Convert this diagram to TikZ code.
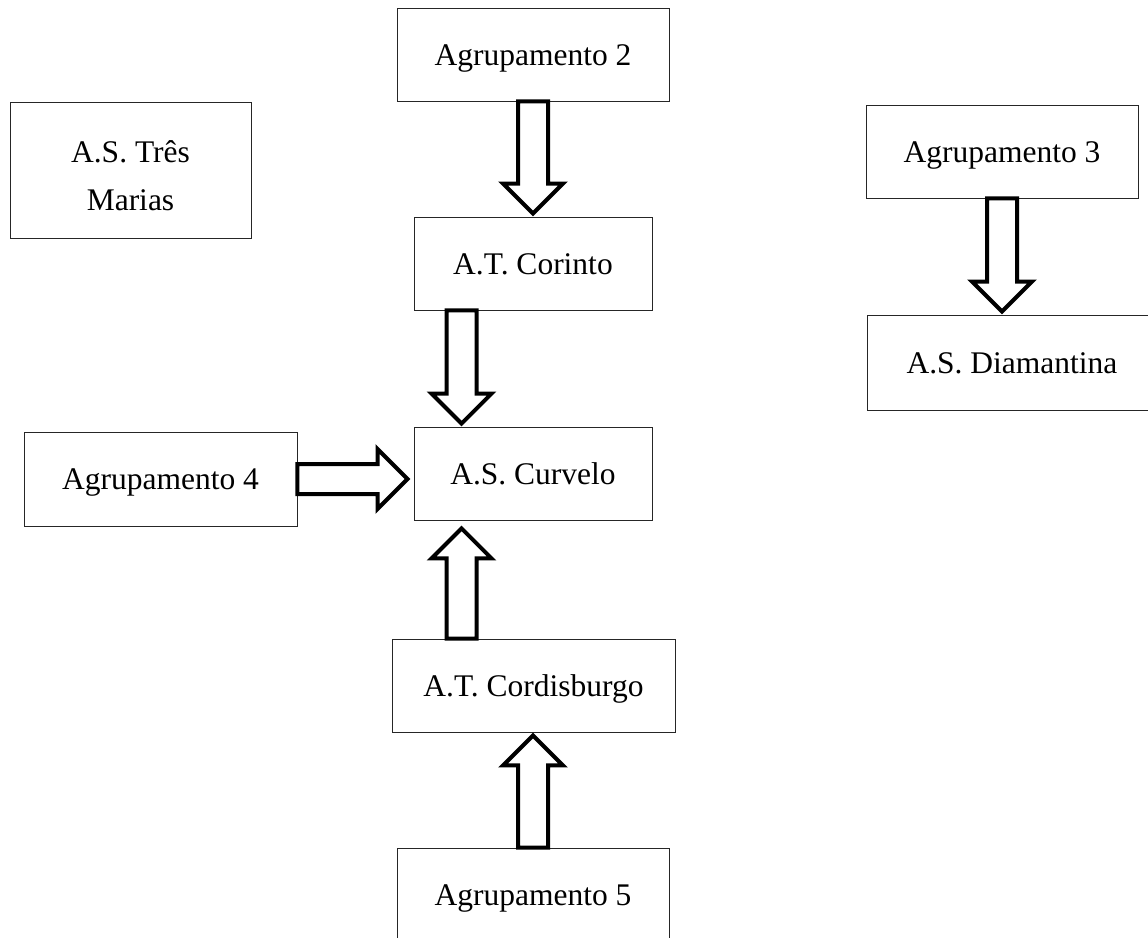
\documentclass[tikz,border=0pt]{standalone}
\usepackage{fontspec}
\setmainfont{Liberation Serif}
\usetikzlibrary{calc}

% geometry of the hollow block arrows
\def\arrSW{15pt}% half width of the shaft
\def\arrHW{30pt}% half width of the head
\def\arrHL{30pt}% length of the head
% \blockarrow{(start)}{(tip)}
\newcommand\blockarrow[2]{%
  \coordinate (ba-h) at ($#2!\arrHL!#1$);
  \draw[fatarrow]
    ($#1!\arrSW!90:#2$) -- ($(ba-h)!\arrSW!90:#2$) -- ($(ba-h)!\arrHW!90:#2$)
    -- #2
    -- ($(ba-h)!\arrHW!-90:#2$) -- ($(ba-h)!\arrSW!-90:#2$) -- ($#1!\arrSW!-90:#2$)
    -- cycle;}

\begin{document}
\begin{tikzpicture}[x=1pt, y=-1pt,
  txt/.style={inner sep=0pt, font=\fontsize{31.5}{38}\selectfont},
  box/.style={draw=black!85, line width=0.9pt, inner sep=0pt,
    text height=21pt, text depth=0pt, font=\fontsize{31.5}{38}\selectfont},
  fatarrow/.style={draw=black, line width=4pt, fill=white, line join=miter}]
\useasboundingbox (0,0) rectangle (1148,937);

% boxes
\node[box, minimum width=272pt, minimum height=93pt]  (ag2)  at (533,54.5)    {Agrupamento 2};
\node[box, minimum width=241pt, minimum height=136pt] (tm)   at (130.5,170)   {};
\node[txt, anchor=base] (tm1) at (130.5,162) {A.S. Três};
\node[txt, anchor=base] (tm2) at (130.5,210) {Marias};
\node[box, minimum width=272pt, minimum height=93pt]  (ag3)  at (1002,151.5)  {Agrupamento 3};
\node[box, minimum width=238pt, minimum height=93pt]  (cor)  at (533,263.5)   {A.T. Corinto};
\node[box, minimum width=290pt, minimum height=95pt]  (diam) at (1012,362.5)  {A.S. Diamantina};
\node[box, minimum width=273pt, minimum height=94pt]  (ag4)  at (160.5,479)   {Agrupamento 4};
\node[box, minimum width=238pt, minimum height=93pt]  (cur)  at (533,473.5)   {A.S. Curvelo};
\node[box, minimum width=283pt, minimum height=93pt]  (cord) at (533.5,685.5) {A.T. Cordisburgo};
\node[box, minimum width=272pt, minimum height=93pt]  (ag5)  at (533,894.5)   {Agrupamento 5};

% arrow ends
\coordinate (a1s) at (ag2.south);
\coordinate (a1t) at ($(cor.north)+(0,-3)$);
\coordinate (a2s) at ($(cur.south west)+(48,0)$);
\coordinate (a2b) at (cor.south -| a2s);
\coordinate (a2t) at ($(cur.north -| a2s)+(0,-3)$);
\coordinate (a3s) at (cord.north -| a2s);
\coordinate (a3t) at ($(cur.south -| a2s)+(0,8)$);
\coordinate (a4s) at (ag5.north);
\coordinate (a4t) at ($(cord.south -| ag5.north)+(0,3)$);
\coordinate (a5s) at (ag4.east);
\coordinate (a5t) at ($(cur.west |- ag4.east)+(-6,0)$);
\coordinate (a6s) at (ag3.south);
\coordinate (a6t) at ($(diam.north -| ag3.south)+(0,-3)$);

% arrows
\blockarrow{(a1s)}{(a1t)}
\blockarrow{(a2b)}{(a2t)}
\blockarrow{(a3s)}{(a3t)}
\blockarrow{(a4s)}{(a4t)}
\blockarrow{(a5s)}{(a5t)}
\blockarrow{(a6s)}{(a6t)}
\end{tikzpicture}
\end{document}
